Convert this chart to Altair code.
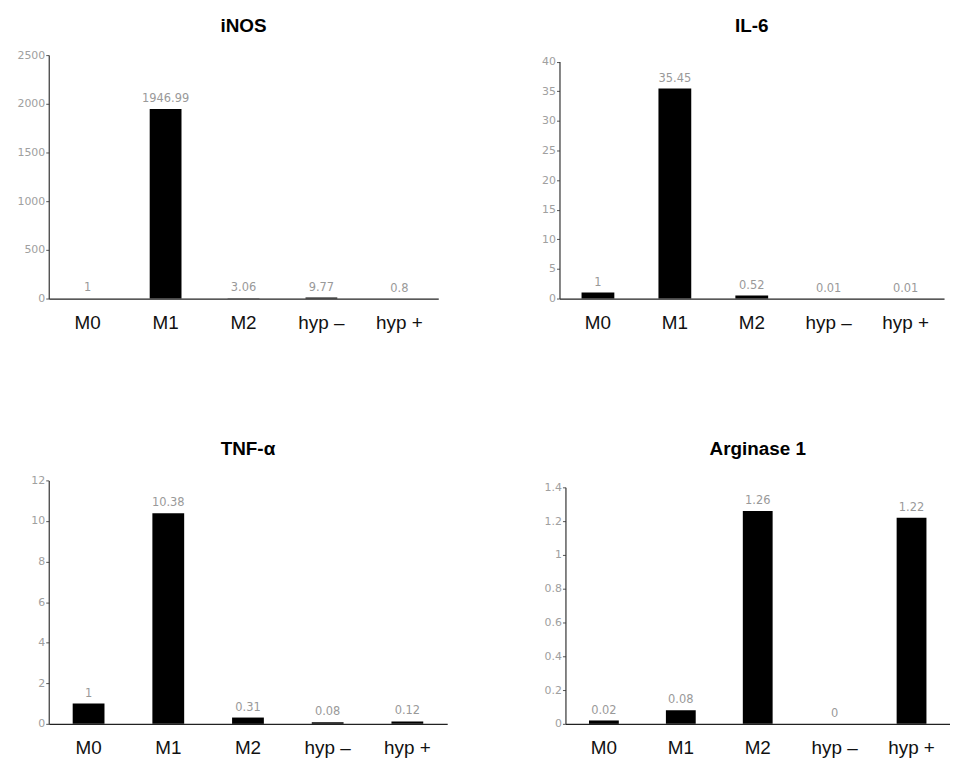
import altair as alt
import pandas as pd

categories = ["M0", "M1", "M2", "hyp –", "hyp +"]

inos_vals = [1, 1946.99, 3.06, 9.77, 0.8]
il6_vals = [1, 35.45, 0.52, 0.01, 0.01]
tnf_vals = [1, 10.38, 0.31, 0.08, 0.12]
arg1_vals = [0.02, 0.08, 1.26, 0, 1.22]

inos_ticks = [0, 500, 1000, 1500, 2000, 2500]
il6_ticks = [0, 5, 10, 15, 20, 25, 30, 35, 40]
tnf_ticks = [0, 2, 4, 6, 8, 10, 12]
arg1_ticks = [0, 0.2, 0.4, 0.6, 0.8, 1.0, 1.2, 1.4]

titles = ["iNOS", "IL-6", "TNF-α", "Arginase 1"]


def panel(title, vals, ticks, width, height, top_gap, extent, title_offset, bar_size):
    df = pd.DataFrame({"cat": categories, "val": vals})
    base = alt.Chart(df).encode(
        x=alt.X(
            "cat:N",
            sort=categories,
            scale=alt.Scale(paddingInner=0, paddingOuter=0),
            axis=alt.Axis(
                title=None, labelAngle=0, ticks=False,
                labelFont="Liberation Sans", labelFontSize=19, labelColor="#111",
                labelPadding=15, domainColor="#222", domainWidth=1.2,
                minExtent=35, maxExtent=35,
            ),
        ),
        y=alt.Y(
            "val:Q",
            scale=alt.Scale(domain=[0, ticks[-1]], nice=False, zero=True,
                            range=[height, top_gap]),
            axis=alt.Axis(
                title=None, values=ticks, format="~r", grid=False,
                tickSize=3, labelPadding=1, tickColor="#555",
                labelFont="DejaVu Sans", labelFontSize=11, labelColor="#a0a0a0",
                domainColor="#333", domainWidth=1.2,
                minExtent=extent, maxExtent=extent,
            ),
        ),
    )
    bars = base.mark_bar(color="black", size=bar_size)
    text = base.mark_text(
        baseline="bottom", dy=-5, font="DejaVu Sans", fontSize=11.5, color="#999"
    ).encode(text=alt.Text("val:Q", format="~r"))
    return alt.layer(bars, text).properties(
        width=width,
        height=height,
        title=alt.TitleParams(
            title, font="Liberation Sans", fontSize=19, fontWeight="bold",
            color="black", anchor="middle", offset=title_offset,
        ),
    )


p1 = panel(titles[0], inos_vals, inos_ticks, 392, 245, 0, 41, 13.5, 32)
p2 = panel(titles[1], il6_vals, il6_ticks, 387, 245, 6.5, 41, 19.5, 33)
p3 = panel(titles[2], tnf_vals, tnf_ticks, 401, 245, 0, 39, 16, 32)
p4 = panel(titles[3], arg1_vals, arg1_ticks, 387, 245, 7, 41, 22, 30)

row1 = alt.hconcat(p1, p2, spacing=81)
row2 = alt.hconcat(p3, p4, spacing=78)

chart = alt.vconcat(row1, row2, spacing=107).properties(
    padding={"top": 6, "left": 0, "right": 0, "bottom": 0}
).configure(background="white").configure_view(strokeWidth=0, stroke="transparent")

chart.save("out.html", embed_options={"renderer": "svg", "actions": False})
